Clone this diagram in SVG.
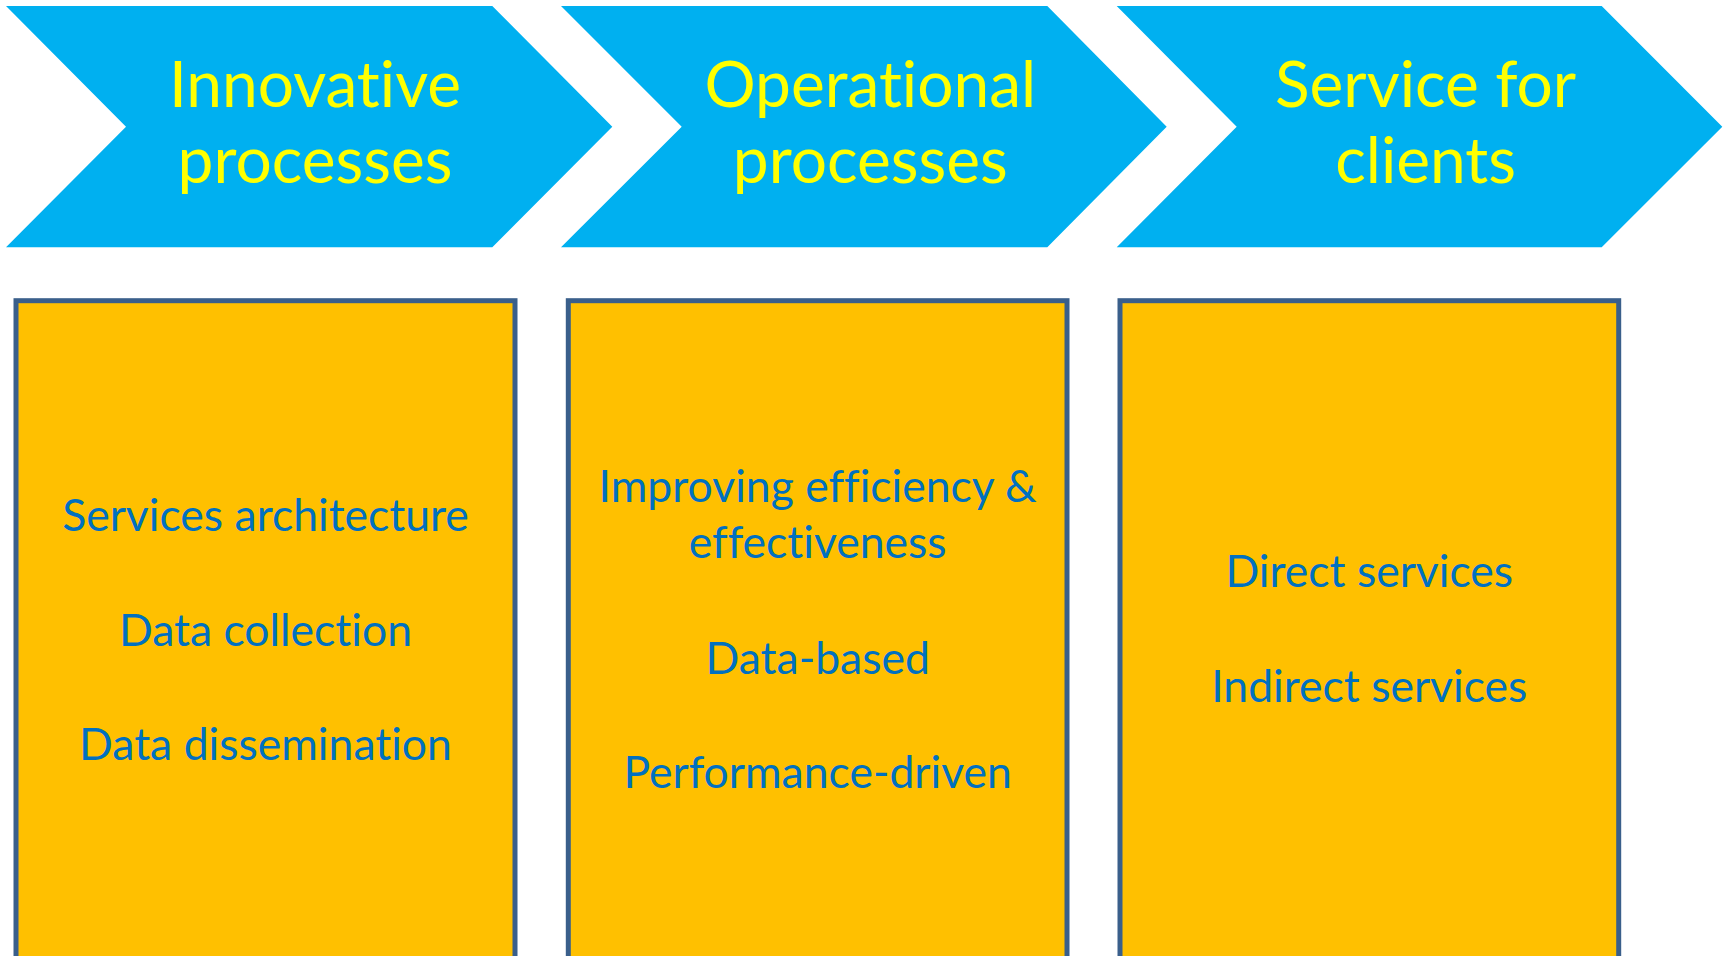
<svg xmlns="http://www.w3.org/2000/svg" width="1727" height="956" viewBox="0 0 1727 956">
<style>
.chev{fill:#00B0F0;}
.box{fill:#FFC000;stroke:#3A5F8B;stroke-width:5;}
.title{font-family:Lato,"Open Sans","Liberation Sans",sans-serif;font-size:64px;fill:#FFFF00;text-anchor:middle;font-variant-ligatures:none;}
.item{font-family:Lato,"Open Sans","Liberation Sans",sans-serif;font-size:44.5px;fill:#0070C0;text-anchor:middle;font-variant-ligatures:none;}
</style>
<rect width="1727" height="956" fill="#FFFFFF"/>
<g id="chevron1">
<polygon class="chev" points="6,6 492.3,6 612.3,126.7 492.3,247.3 6,247.3 126,126.7"/>
<text class="title" x="315" y="106.7">Innovative</text>
<text class="title" x="315" y="183.3">processes</text>
</g>
<g id="chevron2">
<polygon class="chev" points="561,6 1047.3,6 1166.7,126.7 1047.3,247.3 561,247.3 681.7,126.7"/>
<text class="title" x="870.3" y="106.7">Operational</text>
<text class="title" x="870.3" y="183.3">processes</text>
</g>
<g id="chevron3">
<polygon class="chev" points="1116.7,6 1601.7,6 1722.3,126.7 1601.7,247.3 1116.7,247.3 1236.7,126.7"/>
<text class="title" x="1425.6" y="106.7">Service for</text>
<text class="title" x="1425.6" y="183.3">clients</text>
</g>
<g id="box1">
<rect class="box" x="16" y="300.7" width="499" height="680"/>
<text class="item" x="265.5" y="531">Services architecture</text>
<text class="item" x="265.5" y="645.7">Data collection</text>
<text class="item" x="265.5" y="760">Data dissemination</text>
</g>
<g id="box2">
<rect class="box" x="568.3" y="300.7" width="498.7" height="680"/>
<text class="item" x="817.7" y="501.7">Improving efficiency &amp;</text>
<text class="item" x="817.7" y="558.3">effectiveness</text>
<text class="item" x="817.7" y="674.3">Data-based</text>
<text class="item" x="817.7" y="788.3">Performance-driven</text>
</g>
<g id="box3">
<rect class="box" x="1120" y="300.7" width="498.7" height="680"/>
<text class="item" x="1369.3" y="587">Direct services</text>
<text class="item" x="1369.3" y="701.5">Indirect services</text>
</g>
<g id="connectors"></g>
</svg>
